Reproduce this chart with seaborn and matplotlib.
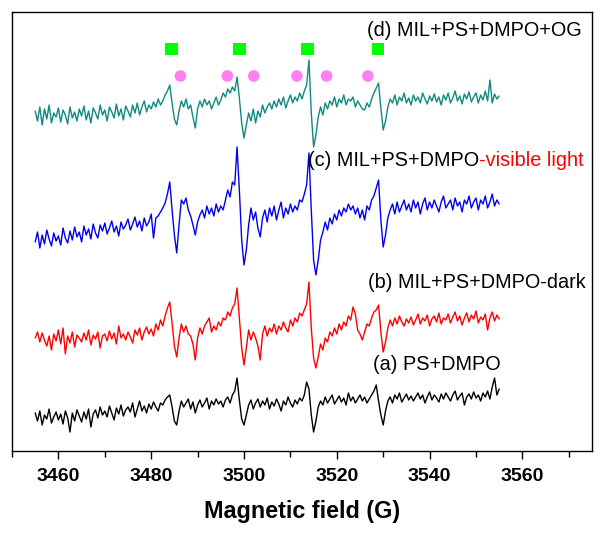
import numpy as np
import pandas as pd
import matplotlib
matplotlib.use("Agg")
import matplotlib.pyplot as plt
from matplotlib.ticker import MultipleLocator
import seaborn as sns

# ---------------- data ----------------
field = np.arange(3455.0, 3555.01, 0.5)  # magnetic field (G)

spec_d = [2, -8, 6, -12, 4, -6, 8, -10, 0, -4,
          5, -9, 3, -2, -11, 6, -5, 1, -8, 4,
          -3, 7, -7, 2, -10, 5, 0, -6, 8, -2,
          3, -8, 6, 1, -5, 9, -3, 4, -7, 7,
          2, -4, 8, 0, 10, -2, 6, 12, 1, 8,
          4, 11, 6, 14, 8, 12, 18, 22, 28, 10, -6, -12,
          2, 12, 6, 14, 4, 8, -4, -15, 4, 12,
          6, 14, 8, 12, 4, 10, 16, 8, 13, 20,
          16, 24, 20, 26, 22, 36, 15, -10, -25, -12,
          0, -8, 4, -10, 2, -4, 8, 0, 6, 10,
          4, 12, 6, 14, 8, 16, 5, 12, 18, 10,
          16, 12, 20, 14, 22, 28, 53, 0, -34, -22,
          -4, 6, -2, 10, 4, 12, 8, 16, 6, 14,
          10, 18, 8, 14, 12, 16, 6, 12, 8, 4,
          3, 10, 6, 14, 20, 25, 30, 5, -17, -8,
          6, 14, 10, 18, 8, 16, 12, 20, 10, 15,
          8, 18, 12, 16, 10, 20, 14, 9, 17, 12,
          19, 11, 16, 8, 18, 13, 20, 10, 15, 22,
          12, 17, 9, 19, 14, 21, 11, 16, 20, 10,
          18, 13, 22, 12, 33, 10, 19, 14, 17]

spec_c = [-12, -2, -18, -5, -14, 0, -9, -16, -3, -11,
          -6, -15, 2, -8, -13, -1, -10, 3, -7, -2,
          -12, 4, -5, 1, -9, 6, -3, -8, 5, -1,
          7, -4, 2, 9, -2, 4, -6, 8, 1, 5,
          11, 0, 6, 13, 3, 9, -1, 12, 4, 8,
          16, -8, 12, 14, 18, 22, 27, 36, 48, 20, -5, -23,
          5, 30, 26, 32, 20, 14, 5, -5, 8, 15,
          20, 12, 24, 16, 22, 14, 26, 18, 24, 20,
          30, 40, 33, 48, 45, 83, 40, -10, -35, -20,
          5, 22, 10, 18, 2, -7, 12, 20, 8, 22,
          14, 24, 10, 20, 28, 12, 22, 16, 26, 18,
          24, 20, 30, 28, 36, 45, 77, 20, -30, -45,
          -30, -10, -2, 8, 0, 12, 6, 16, 10, 20,
          14, 22, 18, 26, 20, 24, 16, 22, 12, 20,
          10, 24, 20, 30, 34, 42, 50, 10, -17, -5,
          12, 20, 26, 16, 28, 18, 24, 30, 20, 26,
          18, 30, 22, 28, 16, 26, 32, 20, 28, 22,
          30, 24, 18, 28, 34, 22, 26, 30, 20, 32,
          24, 28, 18, 30, 26, 34, 22, 28, 32, 20,
          30, 26, 34, 22, 28, 36, 24, 30, 26]

spec_b = [0, 6, -4, 5, -2, -8, 2, -12, 4, -3,
          8, -6, 10, -16, 2, -5, 6, -9, 3, 0,
          -4, 5, -2, 8, -7, 3, -1, 6, -10, 2,
          4, -3, 7, -1, 5, -6, 12, 0, 4, -2,
          6, 1, -5, 8, 3, 10, -2, 6, 11, 4,
          9, 2, 14, 8, 18, 12, 22, 30, 36, 15, -8, -19,
          0, 14, 6, 12, 4, 2, -6, -22, 0, 10,
          4, 12, 16, 20, 6, 12, 8, 16, 12, 20,
          18, 26, 22, 30, 34, 50, 20, -10, -27, -10,
          8, -2, 6, 0, -8, -22, 4, 12, 2, 10,
          6, 14, 4, 12, 8, 16, 10, 6, 18, 12,
          20, 16, 25, 22, 28, 34, 56, 10, -20, -30,
          -19, -6, -12, 0, -4, 6, 2, 10, 4, 14,
          8, 16, 12, 22, 18, 31, 24, 8, 4, -2,
          6, 14, 12, 20, 26, 28, 33, 6, -14, -4,
          10, 18, 12, 20, 14, 22, 16, 12, 19, 15,
          21, 13, 18, 24, 14, 20, 17, 23, 12, 19,
          22, 16, 25, 14, 20, 18, 24, 15, 21, 26,
          17, 22, 13, 20, 25, 16, 23, 19, 27, 15,
          21, 18, 24, 8, 20, 26, 17, 23, 19]

spec_a = [2, -6, 4, -10, 0, -4, 6, -8, -2, 3,
          -5, 1, -9, 4, -3, -17, 2, -6, 5, -1,
          -7, 3, -4, 6, -12, 1, 5, -3, 8, 0,
          4, -2, 9, 2, -5, 7, 1, 10, -1, 5,
          8, 3, 12, -2, 6, 14, 4, 9, 2, 11,
          6, 13, 8, 4, 12, 10, 15, 18, 20, 8, -6, -10,
          4, 14, 8, 12, 16, 6, 13, 2, 10, 15,
          8, 12, 17, 6, 14, 10, 16, 11, 14, 8,
          15, 18, 12, 20, 24, 37, 15, -4, -10, 0,
          10, 15, 6, 12, 16, 8, 14, 10, 17, 6,
          13, 9, 16, 11, 4, 14, 10, 18, 12, 8,
          15, 11, 17, 14, 20, 33, 26, 0, -17, -6,
          8, 14, 10, 18, 12, 16, 20, 11, 15, 19,
          13, 17, 10, 22, 14, 18, 12, 16, 20, 14,
          18, 12, 16, 20, 24, 30, 14, 0, -10, 4,
          14, 18, 12, 20, 16, 22, 13, 17, 21, 15,
          19, 14, 18, 22, 16, 20, 12, 18, 23, 15,
          20, 17, 13, 21, 16, 22, 18, 14, 20, 24,
          15, 19, 22, 10, 18, 21, 16, 23, 17, 20,
          14, 22, 18, 24, 16, 28, 37, 20, 26]

# DMPO-OH (squares) and DMPO-SO4 (circles) line positions
oh_lines = [3484.4, 3499.1, 3513.7, 3528.9]
so4_lines = [3486.3, 3496.4, 3502.1, 3511.4, 3517.8, 3526.7]

# ---------------- style ----------------
sns.set_style("ticks")
plt.rcParams["font.family"] = ["Liberation Sans", "DejaVu Sans"]
plt.rcParams["text.color"] = "black"
plt.rcParams["xtick.color"] = "black"
plt.rcParams["axes.labelcolor"] = "black"

W, H = 605, 538
fig = plt.figure(figsize=(W / 100, H / 100), dpi=100)
ax = fig.add_axes([12 / W, 1 - 451 / H, 580 / W, 439 / H])

series = [("d", spec_d, 338, "#0f8a80"),
          ("c", spec_c, 221, "#0000ee"),
          ("b", spec_b, 113, "#ff0000"),
          ("a", spec_a, 36, "#000000")]

for name, vals, off, col in series:
    df = pd.DataFrame({"field": field, "signal": np.asarray(vals, float) + off})
    sns.lineplot(data=df, x="field", y="signal", ax=ax, color=col,
                 linewidth=1.0, estimator=None, sort=False)

sns.scatterplot(x=oh_lines, y=[402] * len(oh_lines), ax=ax, marker="s",
                s=85, color="#00ff00", edgecolor="none", zorder=5)
sns.scatterplot(x=so4_lines, y=[375] * len(so4_lines), ax=ax, marker="o",
                s=70, color="#ff80f0", edgecolor="none", zorder=5)

ax.set_xlim(3450, 3575)
ax.set_ylim(0, 439)
ax.xaxis.set_major_locator(MultipleLocator(20))
ax.xaxis.set_minor_locator(MultipleLocator(10))
ax.set_yticks([])
ax.tick_params(axis="x", which="major", direction="out", length=6, width=1.0,
               labelsize=14, pad=6, colors="black")
ax.tick_params(axis="x", which="minor", direction="out", length=4, width=1.0,
               colors="black")
for lab in ax.get_xticklabels():
    lab.set_fontweight("bold")
for sp in ax.spines.values():
    sp.set_visible(True)
    sp.set_linewidth(1.0)
    sp.set_color("black")

ax.set_xlabel("Magnetic field (G)", fontsize=16.8, fontweight="bold",
              labelpad=11, color="black")
ax.set_ylabel("")

fs = 14.3
ax.text(3526.5, 421, "(d) MIL+PS+DMPO+OG", fontsize=fs, va="center", ha="left",
        color="black")
t1 = ax.text(3513.8, 290, "(c) MIL+PS+DMPO", fontsize=fs, va="center", ha="left",
             color="black")
ax.annotate("-visible light", xy=(1, 0), xycoords=t1, va="bottom", ha="left",
            fontsize=fs, color="#ff0000")
ax.text(3526.7, 168, "(b) MIL+PS+DMPO-dark", fontsize=fs, va="center", ha="left",
        color="black")
ax.text(3527.8, 86, "(a) PS+DMPO", fontsize=fs, va="center", ha="left",
        color="black")

fig.savefig("out.png", dpi=100)
